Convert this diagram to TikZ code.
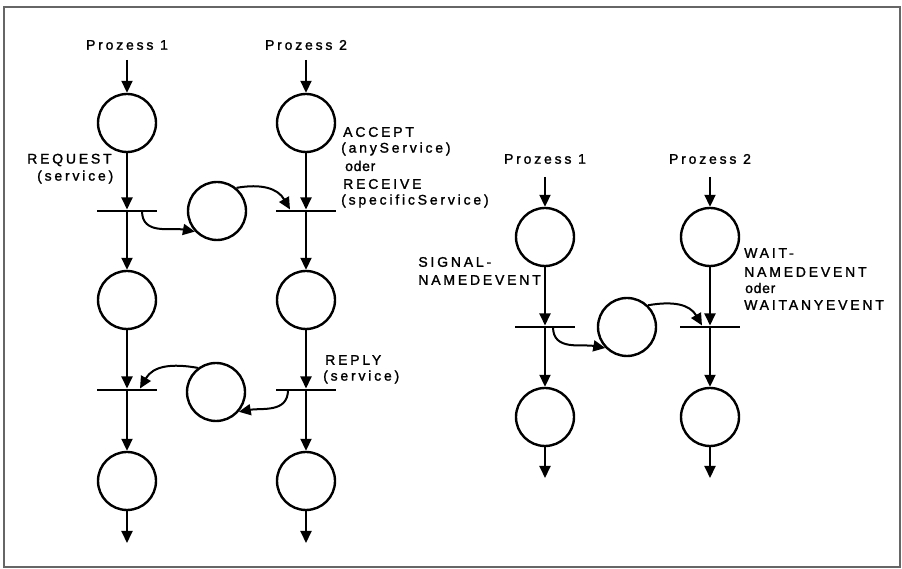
\documentclass[tikz,border=0pt]{standalone}
\usepackage{fontspec}
\usetikzlibrary{arrows.meta}
\newfontfamily\labfont{Liberation Sans}[LetterSpace=20,FakeBold=1.5]
\newfontfamily\lowfont{Liberation Sans}[LetterSpace=5,FakeBold=1.5]
\begin{document}
\begin{tikzpicture}[x=1pt,y=1pt,
  place/.style={circle,draw,line width=2.4pt,minimum size=58pt,inner sep=0pt},
  trans/.style={rectangle,fill=black,minimum width=60pt,minimum height=2.6pt,inner sep=0pt},
  arr/.style={line width=2pt,-{Triangle[width=11pt,length=12pt]}},
  lab/.style={font=\labfont\fontsize{14}{16}\selectfont,inner sep=0pt,anchor=west},
  low/.style={font=\lowfont\fontsize{14}{16}\selectfont,inner sep=0pt,anchor=west},
  ttl/.style={font=\labfont\fontsize{14}{16}\selectfont,inner sep=0pt}]
\useasboundingbox (0,0) rectangle (902,569);
\draw[line width=1.5pt,black!60] (4,2) rectangle (900,562);

% ---------- left net ----------
\node[ttl] (p1t) at (127,524) {Prozess 1};
\node[ttl] (p2t) at (306,524) {Prozess 2};
\coordinate (a1) at (127,509);
\coordinate (a2) at (306,509);
\node[place] (c11) at (127,446) {};
\node[place] (c21) at (306,446) {};
\node[trans] (t1) at (127,358) {};
\node[trans] (t2) at (306,358) {};
\node[place] (m1) at (217,358) {};
\node[place] (c12) at (127,269) {};
\node[place] (c22) at (306,269) {};
\node[trans] (t3) at (127,179) {};
\node[trans] (t4) at (306,179) {};
\node[place] (m2) at (216,177) {};
\node[place] (c13) at (127,88) {};
\node[place] (c23) at (306,88) {};
\coordinate (e1) at (127,26);
\coordinate (e2) at (306,26);

\draw[arr] (a1) -- (c11);
\draw[arr] (c11) -- (t1);
\draw[arr] (t1) -- (c12);
\draw[arr] (c12) -- (t3);
\draw[arr] (t3) -- (c13);
\draw[arr] (c13) -- (e1);
\draw[arr] (a2) -- (c21);
\draw[arr] (c21) -- (t2);
\draw[arr] (t2) -- (c22);
\draw[arr] (c22) -- (t4);
\draw[arr] (t4) -- (c23);
\draw[arr] (c23) -- (e2);

\draw[arr] ([xshift=15pt]t1.center) to[out=-90,in=170,looseness=1.1] (m1.223);
\draw[arr] (m1.50) to[out=10,in=120,looseness=1.1] ([xshift=-16pt]t2.north);
\draw[arr] (m2.127) to[out=170,in=60,looseness=1.1] ([xshift=13pt]t3.north);
\draw[arr] ([xshift=-18pt]t4.center) to[out=-90,in=10,looseness=1.1] (m2.-41);

\node[lab] (req) at (27,409) {REQUEST};
\node[lab] (reqs) at (37,392) {(service)};
\node[lab] (acc) at (343,437) {ACCEPT};
\node[lab] (accs) at (341,420) {(anyService)};
\node[low] (oder1) at (345,403) {oder};
\node[lab] (rec) at (343,385) {RECEIVE};
\node[lab] (recs) at (341,368) {(specificService)};
\node[lab] (rep) at (325,209) {REPLY};
\node[lab] (reps) at (323,192) {(service)};

% ---------- right net ----------
\node[ttl] (q1t) at (545,410) {Prozess 1};
\node[ttl] (q2t) at (710,410) {Prozess 2};
\coordinate (b1) at (545,392);
\coordinate (b2) at (710,392);
\node[place] (d11) at (545,332) {};
\node[place] (d21) at (710,332) {};
\node[trans] (t5) at (545,242) {};
\node[trans] (t6) at (710,242) {};
\node[place] (m3) at (627,242) {};
\node[place] (d12) at (545,152) {};
\node[place] (d22) at (710,152) {};
\coordinate (f1) at (545,91);
\coordinate (f2) at (710,91);

\draw[arr] (b1) -- (d11);
\draw[arr] (d11) -- (t5);
\draw[arr] (t5) -- (d12);
\draw[arr] (d12) -- (f1);
\draw[arr] (b2) -- (d21);
\draw[arr] (d21) -- (t6);
\draw[arr] (t6) -- (d22);
\draw[arr] (d22) -- (f2);

\draw[arr] ([xshift=8pt]t5.center) to[out=-90,in=170,looseness=1.1] (m3.224);
\draw[arr] (m3.46) to[out=10,in=120,looseness=1.1] ([xshift=-8pt]t6.north);

\node[lab,anchor=east] (sig2) at (541,289) {NAMEDEVENT};
\node[lab] (sig1) at (sig2.west |- 0,307) {SIGNAL-};
\node[lab] (w1) at (744,316) {WAIT-};
\node[lab] (w2) at (744,297) {NAMEDEVENT};
\node[low] (w3) at (745,281) {oder};
\node[lab] (w4) at (744,264) {WAITANYEVENT};
\end{tikzpicture}
\end{document}
